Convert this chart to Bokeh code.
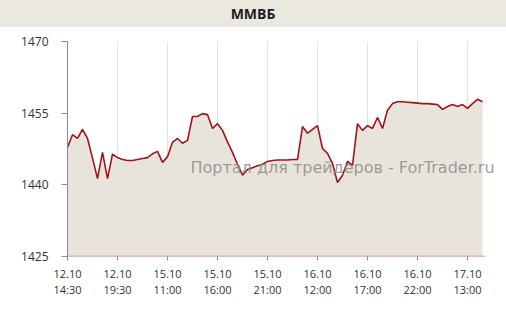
from bokeh.plotting import figure
from bokeh.models import Range1d, Label, Div
from bokeh.layouts import column
from bokeh.embed import file_html
from bokeh.resources import INLINE

chart_title = "ММВБ"
watermark = "Портал для трейдеров - ForTrader.ru"

# MICEX index, 30-minute points
values = [
    1447.8, 1450.5, 1449.7, 1451.6, 1449.7, 1445.6, 1441.3, 1446.8, 1441.3, 1446.4,
    1445.7, 1445.3, 1445.1, 1445.1, 1445.3, 1445.5, 1445.7, 1446.5, 1447.0, 1444.7,
    1445.9, 1448.9, 1449.7, 1448.7, 1449.3, 1454.3, 1454.3, 1454.9, 1454.7, 1451.8,
    1452.8, 1451.4, 1449.0, 1446.8, 1444.3, 1442.0, 1443.2, 1443.6, 1444.0, 1444.3,
    1444.9, 1445.1, 1445.2, 1445.2, 1445.2, 1445.3, 1445.3, 1452.2, 1450.8, 1451.6,
    1452.4, 1447.6, 1446.6, 1444.5, 1440.5, 1442.0, 1444.9, 1444.1, 1452.8, 1451.4,
    1452.4, 1451.8, 1454.1, 1451.8, 1455.6, 1457.0, 1457.4, 1457.4, 1457.3, 1457.2,
    1457.1, 1457.0, 1457.0, 1456.9, 1456.8, 1455.8, 1456.4, 1456.8, 1456.4, 1456.8,
    1456.0, 1457.0, 1457.9, 1457.4,
]
tick_index = [0, 10, 20, 30, 40, 50, 60, 70, 80]
tick_labels = [
    "12.10\n14:30", "12.10\n19:30", "15.10\n11:00", "15.10\n16:00", "15.10\n21:00",
    "16.10\n12:00", "16.10\n17:00", "16.10\n22:00", "17.10\n13:00",
]
y_ticks = [1425, 1440, 1455, 1470]
y_min, y_max = 1425, 1470
axis_end = 83.5

x = list(range(len(values)))

header = Div(
    text=('<div style="width:506px;height:27px;line-height:27px;text-align:center;'
          'font-family:\'Open Sans\';font-weight:bold;font-size:14px;color:#1e1e1e;'
          'background:#ebe8e0;">' + chart_title + '</div>'),
    width=506, height=27, margin=0,
)

p = figure(
    width=506, height=285, output_backend="svg", toolbar_location=None,
    x_range=Range1d(0, 87.8), y_range=Range1d(y_min, y_max),
    min_border_left=67, min_border_right=0, min_border_top=14, min_border_bottom=56,
    margin=0,
)
p.outline_line_color = None
p.background_fill_color = "white"
p.border_fill_color = "white"

p.varea(x=x, y1=[y_min] * len(x), y2=values, fill_color="#e9e4db")
p.line(x=x, y=values, line_color="#a0141c", line_width=1.6)
p.line(x=[0, axis_end], y=[y_min, y_min], line_color="#c47c7c", line_width=1.6)

p.ygrid.grid_line_color = None
p.xgrid.grid_line_color = "#e2e2e2"
p.xgrid.ticker = tick_index

p.xaxis.ticker = tick_index
p.xaxis.major_label_overrides = {i: lab for i, lab in zip(tick_index, tick_labels)}
p.yaxis.ticker = y_ticks

for ax in (p.xaxis, p.yaxis):
    ax.axis_line_color = "#8a8a8a"
    ax.major_tick_line_color = "#8a8a8a"
    ax.major_tick_in = 0
    ax.minor_tick_line_color = None
    ax.major_label_text_font = "Open Sans"
    ax.major_label_text_color = "#333333"

p.xaxis.axis_line_color = None
p.xaxis.major_tick_out = 4
p.xaxis.major_label_text_font_size = "11px"
p.xaxis.major_label_text_line_height = 1.1
p.xaxis.major_label_standoff = 5
p.yaxis.major_tick_out = 6
p.yaxis.major_label_text_font_size = "12px"
p.yaxis.major_label_standoff = 13

p.add_layout(Label(
    x=24.6, y=1443.6, text=watermark, text_baseline="middle", text_align="left",
    text_font="DejaVu Sans", text_font_size="16px", text_color="#8c8c8c", text_alpha=0.85,
))

layout = column(header, p, spacing=0, margin=0)
open("out.html", "w").write(file_html(layout, INLINE))
